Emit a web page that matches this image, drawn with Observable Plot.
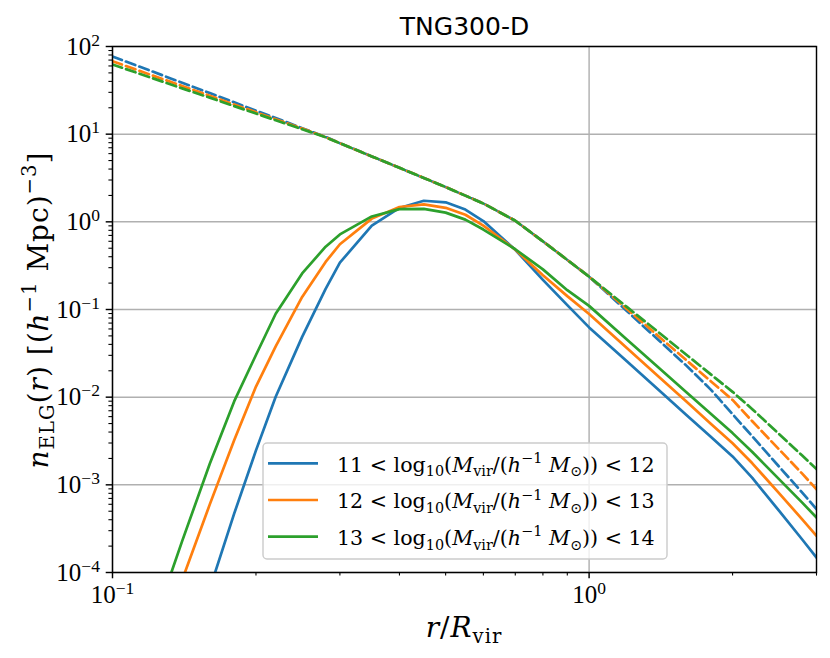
<!DOCTYPE html>
<html>
<head>
<meta charset="utf-8">
<script src="https://cdn.jsdelivr.net/npm/d3@7"></script>
<script src="https://cdn.jsdelivr.net/npm/@observablehq/plot@0.6"></script>
<style>
  html, body { margin: 0; padding: 0; background: white; }
  #chart { width: 830px; height: 658px; }
</style>
</head>
<body>
<div id="chart"></div>
<script>
// ---------- data ----------
const r = [0.1, 0.12, 0.14, 0.16, 0.18, 0.2, 0.22, 0.25, 0.28, 0.3, 0.35, 0.4, 0.45, 0.5, 0.55, 0.6, 0.7, 0.8, 0.9, 1.0, 1.2, 1.4, 1.6, 1.8, 2.0, 2.2, 2.5, 2.8, 3.0];

// ELG number density profiles (solid)
const elg11 = [null, null, null, 6.5e-5, 4.69e-4, 2.47e-3, 1.01e-2, 0.0487, 0.172, 0.342, 0.906, 1.44, 1.74, 1.67, 1.38, 1.02, 0.479, 0.218, 0.112, 0.0625, 0.0257, 0.0121, 6.28e-3, 3.53e-3, 2.11e-3, 1.20e-3, 5.1e-4, 2.38e-4, 1.48e-4];
const elg12 = [null, null, 8.2e-5, 5.98e-4, 3.23e-3, 0.0132, 0.038, 0.139, 0.349, 0.555, 1.088, 1.476, 1.585, 1.445, 1.205, 0.906, 0.482, 0.246, 0.142, 0.089, 0.0364, 0.0171, 8.9e-3, 4.99e-3, 2.98e-3, 1.76e-3, 8.1e-4, 4.04e-4, 2.62e-4];
const elg13 = [null, 2.0e-5, 2.28e-4, 1.74e-3, 8.95e-3, 0.0303, 0.0895, 0.258, 0.521, 0.718, 1.152, 1.397, 1.404, 1.274, 1.06, 0.817, 0.487, 0.287, 0.166, 0.11, 0.0456, 0.0217, 0.0114, 6.46e-3, 3.89e-3, 2.37e-3, 1.17e-3, 6.27e-4, 4.23e-4];

// reference profiles (dashed)
const ref11 = [76.9, 53.0, 38.6, 29.4, 23.1, 18.5, 15.3, 11.7, 9.3, 7.89, 5.58, 4.13, 3.17, 2.49, 1.99, 1.62, 1.03, 0.599, 0.368, 0.237, 0.0962, 0.0446, 0.0229, 0.0122, 6.4e-3, 3.57e-3, 1.63e-3, 8.15e-4, 5.28e-4];
const ref12 = [67.9, 47.7, 35.5, 27.4, 21.8, 17.8, 14.8, 11.6, 9.25, 7.89, 5.58, 4.13, 3.17, 2.49, 1.99, 1.62, 1.03, 0.599, 0.368, 0.237, 0.1016, 0.0493, 0.0264, 0.0152, 9.3e-3, 5.31e-3, 2.56e-3, 1.34e-3, 8.9e-4];
const ref13 = [62.4, 44.4, 33.3, 26.1, 20.9, 17.2, 14.4, 11.4, 9.2, 7.89, 5.58, 4.13, 3.17, 2.49, 1.99, 1.62, 1.03, 0.599, 0.368, 0.237, 0.107, 0.0548, 0.0305, 0.0182, 0.0115, 7.3e-3, 3.83e-3, 2.16e-3, 1.51e-3];

const binLo = [11, 12, 13];
const binHi = [12, 13, 14];
const colors = ["#1f77b4", "#ff7f0e", "#2ca02c"];

const xMajor = [0.1, 1];
const xMinor = [0.2, 0.3, 0.4, 0.5, 0.6, 0.7, 0.8, 0.9, 2, 3];
const yMajor = [1e-4, 1e-3, 1e-2, 1e-1, 1, 10, 100];
const yMinor = [];
for (const e of [-4, -3, -2, -1, 0, 1]) for (let k = 2; k <= 9; k++) yMinor.push(k * Math.pow(10, e));

const title = "TNG300-D";

// ---------- build tables ----------
function rows(values) {
  return r.map((x, i) => ({r: x, n: values[i]})).filter(d => d.n != null);
}
const solids = [elg11, elg12, elg13].map(rows);
const dashed = [ref11, ref12, ref13].map(rows);

const fmt = d => "10^" + Math.round(Math.log10(d));

const LW = 2.7;
const marks = [
  Plot.gridX(xMajor, {stroke: "#b0b0b0", strokeOpacity: 1, strokeWidth: 1.44}),
  Plot.gridY(yMajor, {stroke: "#b0b0b0", strokeOpacity: 1, strokeWidth: 1.44}),
];
solids.forEach((d, i) => marks.push(Plot.line(d, {x: "r", y: "n", stroke: colors[i], strokeWidth: LW, clip: true})));
dashed.forEach((d, i) => marks.push(Plot.line(d, {x: "r", y: "n", stroke: colors[i], strokeWidth: LW, strokeDasharray: "10,4.3", clip: true})));
marks.push(
  Plot.frame({stroke: "black", strokeWidth: 1.44}),
  Plot.axisX(xMajor, {tickSize: 6.3, tickPadding: 6.3, tickFormat: fmt, strokeWidth: 1.44, label: null}),
  Plot.axisX(xMinor, {tickSize: 3.6, tickFormat: () => "", strokeWidth: 1.08, label: null}),
  Plot.axisY(yMajor, {tickSize: 6.3, tickPadding: 6.3, tickFormat: fmt, strokeWidth: 1.44, label: null}),
  Plot.axisY(yMinor, {tickSize: 3.6, tickFormat: () => "", strokeWidth: 1.08, label: null}),
  Plot.text([title], {frameAnchor: "top", dy: -12, lineAnchor: "bottom", fontFamily: "DejaVu Sans", fontSize: 25, fill: "black"})
);

const svg = Plot.plot({
  width: 830,
  height: 658,
  marginLeft: 112,
  marginRight: 14,
  marginTop: 46,
  marginBottom: 86,
  x: {type: "log", domain: [0.1, 3], label: null},
  y: {type: "log", domain: [1e-4, 1e2], label: null},
  style: {fontFamily: "'Liberation Serif', serif", fontSize: "25px", background: "white", color: "black", overflow: "visible"},
  marks
});
document.getElementById("chart").appendChild(svg);

// ---------- superscript tick labels ----------
svg.querySelectorAll('g[aria-label$="tick label"] text').forEach(t => {
  const s = t.textContent;
  if (!s.includes("^")) return;
  const [b, e] = s.split("^");
  const ex = (+e < 0 ? "\u2212" + Math.abs(+e) : e);
  t.textContent = "";
  const ns = "http://www.w3.org/2000/svg";
  const t1 = document.createElementNS(ns, "tspan"); t1.textContent = b; t.appendChild(t1);
  const t2 = document.createElementNS(ns, "tspan"); t2.textContent = ex;
  t2.setAttribute("font-size", "17.5px"); t2.setAttribute("dy", "-9px"); t.appendChild(t2);
});

// ---------- rich text helper ----------
function rich(sel, base, parts) {
  let cur = 0;
  sel.style("white-space", "pre");
  for (const [txt, o] of parts) {
    const want = o.sub ? 0.22 * base : o.sup ? -0.42 * base : 0;
    const ts = sel.append("tspan").text(txt)
      .attr("dy", (want - cur) + "px")
      .attr("font-size", (o.sub || o.sup ? 0.7 * base : base) + "px");
    if (o.it) ts.attr("font-style", "italic");
    cur = want;
  }
}

const S = d3.select(svg);
const serif = "'DejaVu Serif', serif";

// x label
rich(S.append("text").attr("x", 464).attr("y", 637).attr("text-anchor", "middle")
  .attr("font-family", serif).attr("fill", "black").attr("letter-spacing", "1px"), 28,
  [["r", {it: 1}], ["/", {}], ["R", {it: 1}], ["vir", {sub: 1}]]);

// y label
rich(S.append("text").attr("transform", "translate(48,310) rotate(-90)").attr("text-anchor", "middle")
  .attr("font-family", serif).attr("fill", "black").attr("letter-spacing", "1px"), 28,
  [["n", {it: 1}], ["ELG", {sub: 1}], ["(", {}], ["r", {it: 1}], [") [(", {}], ["h", {it: 1}], ["\u22121", {sup: 1}], [" Mpc)", {}], ["\u22123", {sup: 1}], ["]", {}]]);

// legend
const L = S.append("g").attr("aria-label", "legend");
L.append("rect").attr("x", 263).attr("y", 443).attr("width", 404).attr("height", 116)
  .attr("rx", 4).attr("fill", "white").attr("fill-opacity", 0.8)
  .attr("stroke", "#cccccc").attr("stroke-width", 1.44);
binLo.forEach((lo, i) => {
  const yy = 463.3 + i * 36.7;
  L.append("line").attr("x1", 268).attr("x2", 318).attr("y1", yy).attr("y2", yy)
    .attr("stroke", colors[i]).attr("stroke-width", LW);
  rich(L.append("text").attr("x", 337).attr("y", yy + 8.4).attr("text-anchor", "start")
    .attr("font-family", serif).attr("fill", "black"), 20.6,
    [[lo + " < log", {}], ["10", {sub: 1}], ["(", {}], ["M", {it: 1}], ["vir", {sub: 1}], ["/(", {}], ["h", {it: 1}], ["\u22121", {sup: 1}], [" ", {}], ["M", {it: 1}], ["\u2299", {sub: 1}], [")) < " + binHi[i], {}]]);
});
</script>
</body>
</html>
